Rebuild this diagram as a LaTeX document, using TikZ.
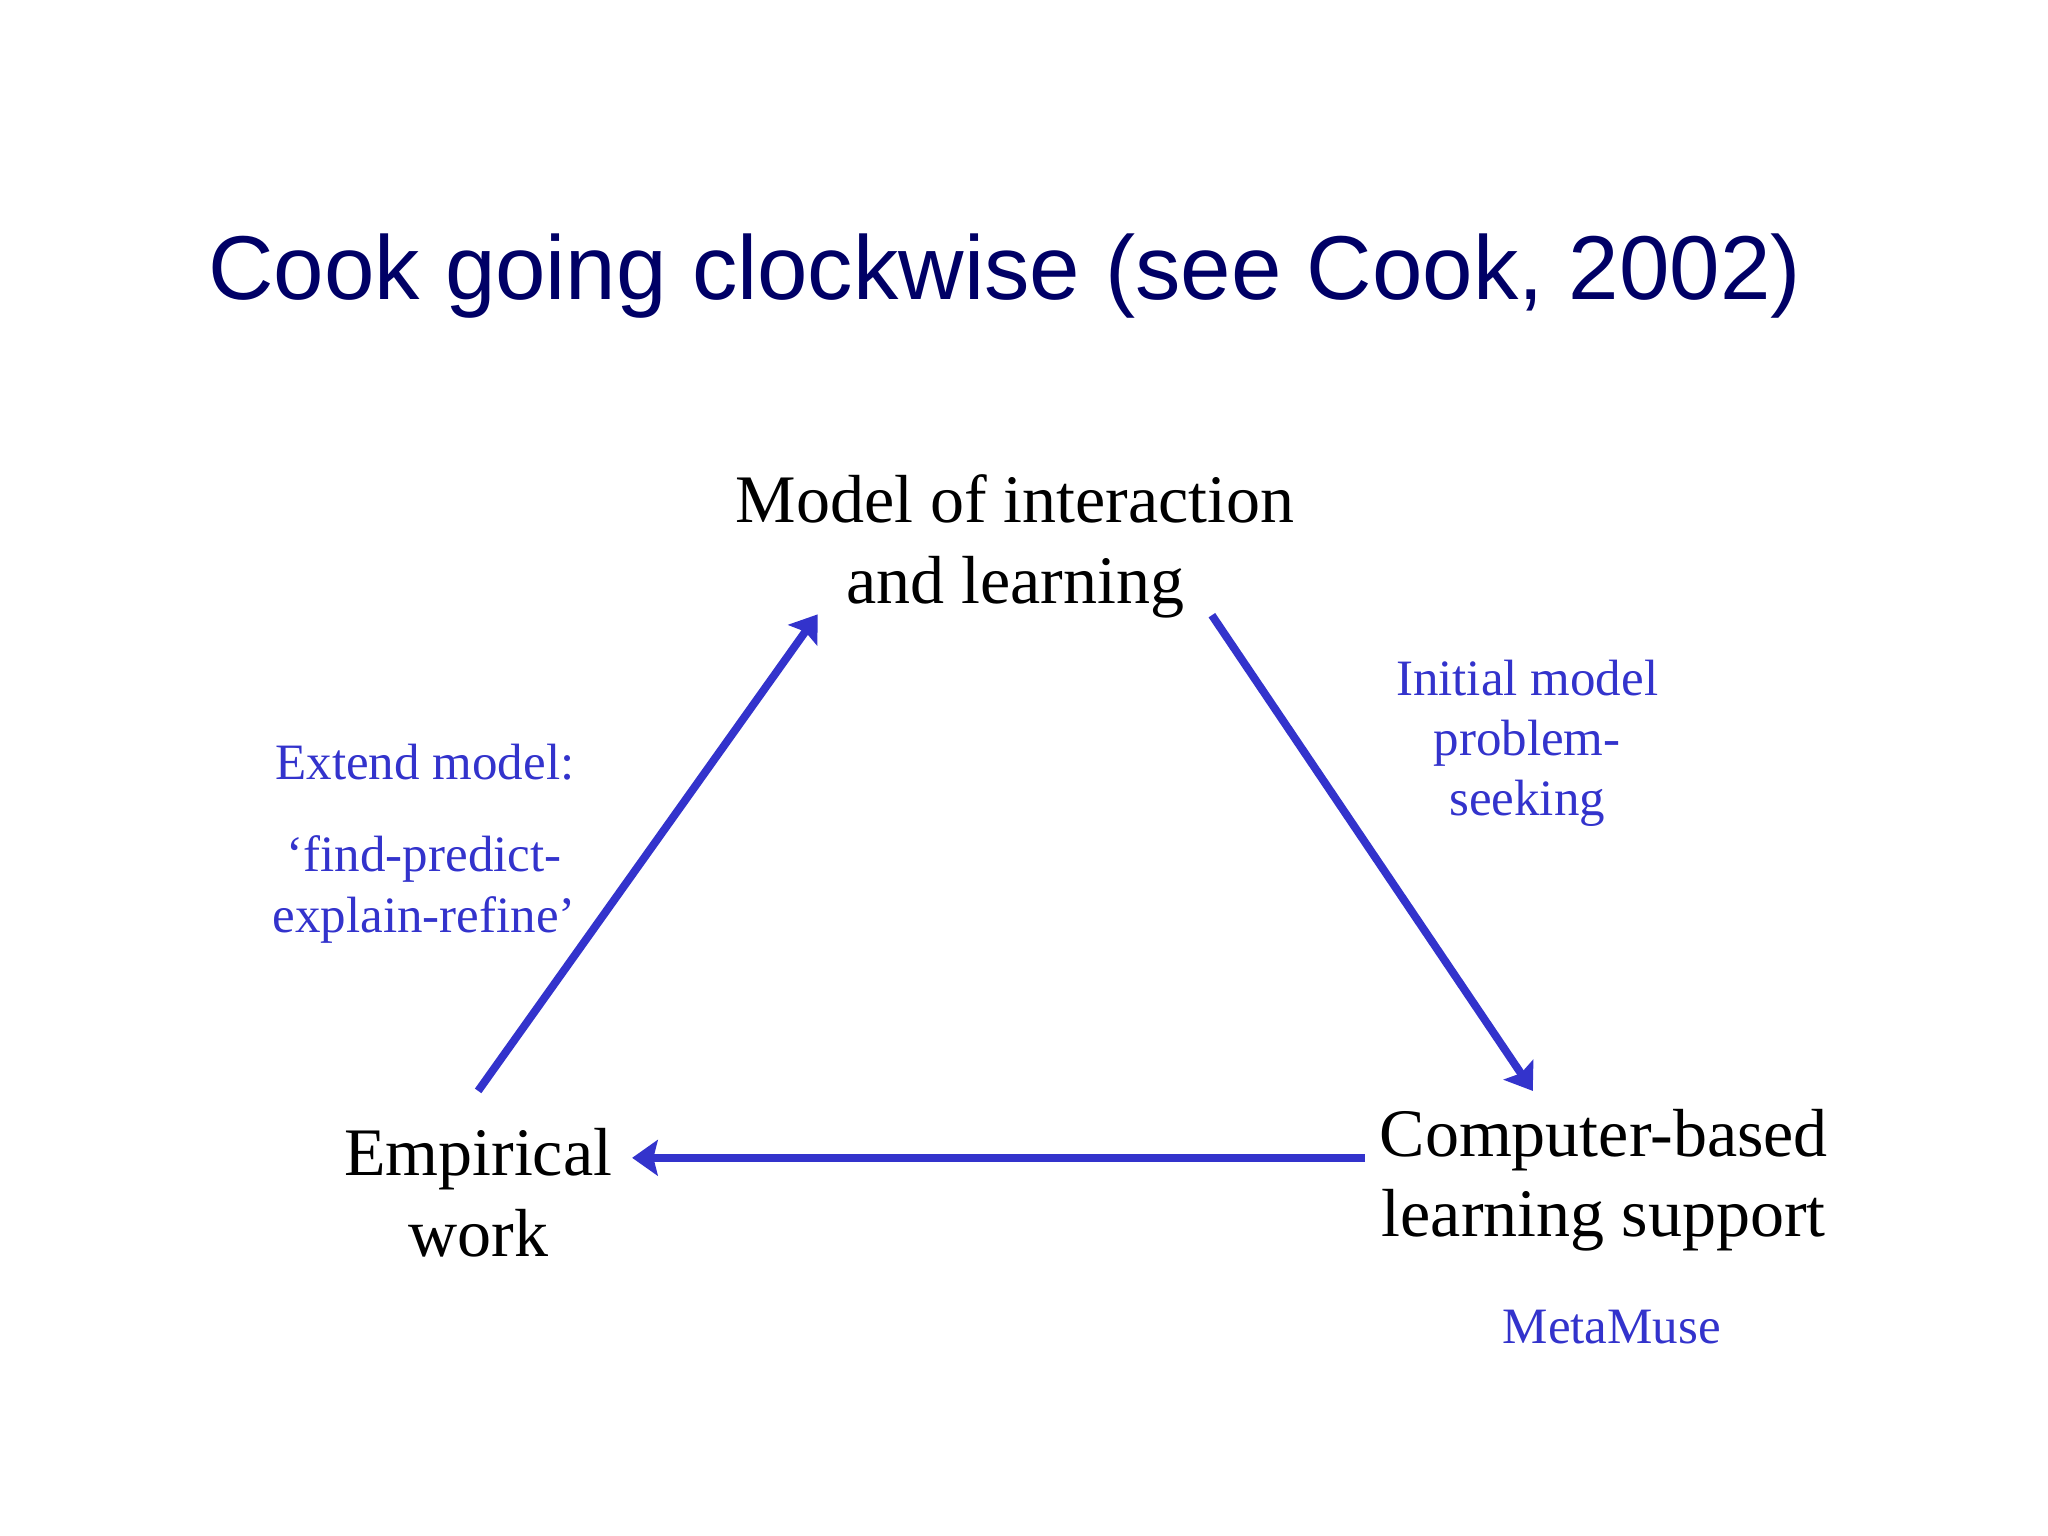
\documentclass[tikz,border=0pt]{standalone}
\usepackage{fontspec}
\setmainfont{Liberation Serif}
\newfontfamily\titlefont{Liberation Sans}
\usetikzlibrary{arrows.meta}

\definecolor{navy}{RGB}{0,0,102}
\definecolor{cookblue}{RGB}{51,51,204}

\begin{document}
\begin{tikzpicture}[
    corner/.style={align=center, anchor=base, inner sep=0pt,
	font=\fontsize{24}{28.5}\selectfont},
    note/.style={align=center, anchor=base, inner sep=0pt, text=cookblue,
	font=\fontsize{18}{21.3}\selectfont},
    flow/.style={draw=cookblue, line width=2.8pt,
	-{Stealth[length=9pt, width=12.5pt, inset=1.5pt]}}
]
    \useasboundingbox (0, 0) rectangle (25.4, 19.05);

    \node [anchor=base, text=navy, font=\titlefont\fontsize{32}{38}\selectfont]
	(title) at (12.46, 15.33) {Cook going clockwise (see Cook, 2002)};

    % the three corners (base = last line)
    \node [corner] (model) at (12.59, 11.57) {Model of interaction\\and learning};
    \node [corner] (emp) at (5.93, 3.47) {Empirical\\work};
    \node [corner] (comp) at (19.89, 3.71) {Computer-based\\learning support};

    % notes beside the arrows
    \node [note] (extend) at (5.27, 9.38) {Extend model:};
    \node [note] (fper) at (5.26, 7.49) {‘find-predict-\\explain-refine’};
    \node [note] (initial) at (18.94, 8.93) {Initial model\\problem-\\seeking};
    \node [note] (muse) at (19.99, 2.39) {MetaMuse};

    \draw[flow] ([shift={(0, 2.05)}]emp.base) -- ([shift={(-2.45, -0.14)}]model.base);
    \draw[flow] ([shift={(2.44, -0.15)}]model.base) -- ([shift={(-0.88, 1.81)}]comp.base);
    \draw[flow] ([shift={(-2.96, 0.98)}]comp.base) -- ([shift={(1.91, 1.22)}]emp.base);
\end{tikzpicture}
\end{document}
